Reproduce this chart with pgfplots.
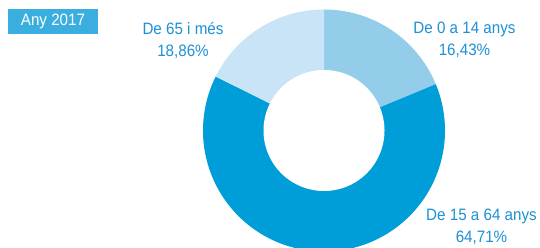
\documentclass[border=0pt]{standalone}
\usepackage{pgfplots}
\pgfplotsset{compat=1.18}
\usepackage{fontspec}
\setmainfont{Liberation Sans}[FakeStretch=0.92]
\definecolor{cA}{HTML}{93CDEA}
\definecolor{cB}{HTML}{009ED8}
\definecolor{cC}{HTML}{C9E4F6}
\definecolor{txt}{HTML}{1E90D4}
\definecolor{boxc}{HTML}{3AAFDF}
% shares of the ring as drawn (percent), clockwise from the top
\def\sA{18.75}\def\sB{63.61}\def\sC{17.64}
\pgfmathsetmacro{\aA}{90}
\pgfmathsetmacro{\aB}{90-3.6*\sA}
\pgfmathsetmacro{\aC}{\aB-3.6*\sB}
\pgfmathsetmacro{\aD}{\aC-3.6*\sC}
\begin{document}
\begin{tikzpicture}
\begin{axis}[
  scale only axis, width=540pt, height=248pt,
  xmin=0, xmax=540, ymin=0, ymax=248,
  hide axis, clip=true,
]
\addplot[fill=cA, draw=none, domain=\aB:\aA, samples=80, variable=\t]
  ({324+121*cos(\t)},{117.5+121*sin(\t)}) -- (axis cs:324,117.5) -- cycle;
\addplot[fill=cB, draw=none, domain=\aC:\aB, samples=200, variable=\t]
  ({324+121*cos(\t)},{117.5+121*sin(\t)}) -- (axis cs:324,117.5) -- cycle;
\addplot[fill=cC, draw=none, domain=\aD:\aC, samples=80, variable=\t]
  ({324+121*cos(\t)},{117.5+121*sin(\t)}) -- (axis cs:324,117.5) -- cycle;
\addplot[fill=white, draw=none, domain=0:360, samples=180, variable=\t]
  ({324+60.5*cos(\t)},{117.5+60.5*sin(\t)}) -- cycle;
\node[fill=boxc, text=white, minimum width=90pt, minimum height=25pt, inner sep=0pt,
  font=\fontsize{16.5}{20}\selectfont] at (axis cs:53,226.5) {Any 2017};
\node[text=txt, align=center, inner sep=0pt, font=\fontsize{16.5}{22}\selectfont]
  at (axis cs:183,208) {De 65 i més\\18,86\%};
\node[text=txt, align=center, inner sep=0pt, font=\fontsize{16.5}{22}\selectfont]
  at (axis cs:464.5,208) {De 0 a 14 anys\\16,43\%};
\node[text=txt, align=center, inner sep=0pt, font=\fontsize{16.5}{22}\selectfont]
  at (axis cs:481.5,21) {De 15 a 64 anys\\64,71\%};
\end{axis}
\pgfresetboundingbox
\useasboundingbox (current axis.south west) rectangle (current axis.north east);
\end{tikzpicture}
\end{document}
